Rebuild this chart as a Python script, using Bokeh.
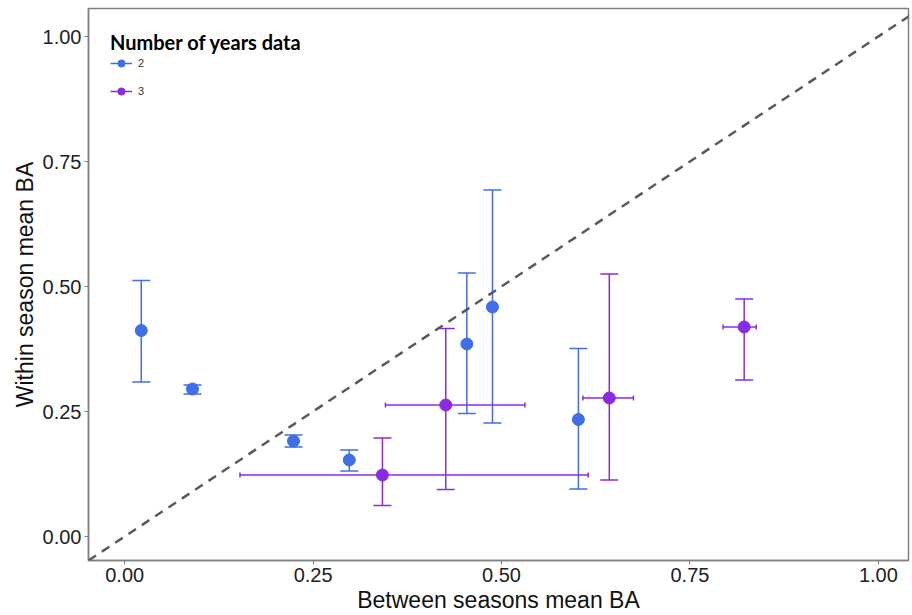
from bokeh.plotting import figure
from bokeh.models import (ColumnDataSource, Range1d, Whisker, TeeHead, Slope,
                          Legend, LegendItem, FixedTicker)
from bokeh.embed import file_html
from bokeh.resources import INLINE

# ---- data ----
# 2 years of data (only within-season error)
blue_x = [0.022, 0.090, 0.224, 0.298, 0.454, 0.488, 0.602]
blue_y = [0.412, 0.295, 0.191, 0.153, 0.385, 0.459, 0.234]
blue_ylo = [0.309, 0.285, 0.179, 0.131, 0.246, 0.227, 0.095]
blue_yhi = [0.512, 0.303, 0.203, 0.173, 0.527, 0.693, 0.376]

# 3 years of data (within and between season error)
purp_x = [0.342, 0.426, 0.643, 0.822]
purp_y = [0.123, 0.263, 0.277, 0.419]
purp_ylo = [0.062, 0.094, 0.113, 0.313]
purp_yhi = [0.197, 0.416, 0.525, 0.475]
purp_xlo = [0.153, 0.346, 0.608, 0.794]
purp_xhi = [0.615, 0.531, 0.675, 0.838]

ticks = [0.0, 0.25, 0.5, 0.75, 1.0]
tick_labels = {0.0: "0.00", 0.25: "0.25", 0.5: "0.50", 0.75: "0.75", 1.0: "1.00"}

BLUE = "#3f6ee6"
PURPLE = "#8a2be2"
GRAY = "#808080"
FONT = "Liberation Sans"

p = figure(width=912, height=615, output_backend="svg", toolbar_location=None,
           x_range=Range1d(-0.048, 1.04), y_range=Range1d(-0.048, 1.056),
           min_border_left=88, min_border_right=4, min_border_top=8,
           min_border_bottom=53)
p.grid.visible = False
p.outline_line_color = GRAY
p.outline_line_width = 1.5
p.background_fill_color = "white"
p.border_fill_color = "white"

for ax in (p.xaxis[0], p.yaxis[0]):
    ax.ticker = FixedTicker(ticks=ticks)
    ax.major_label_overrides = tick_labels
    ax.minor_tick_line_color = None
    ax.major_tick_in = 0
    ax.major_tick_out = 4
    ax.major_tick_line_color = GRAY
    ax.axis_line_color = GRAY
    ax.axis_line_width = 1.5
    ax.major_label_text_font = FONT
    ax.major_label_text_font_size = "20px"
    ax.major_label_text_color = "#222222"
    ax.axis_label_text_font = FONT
    ax.axis_label_text_font_size = "23px"
    ax.axis_label_text_font_style = "normal"
    ax.axis_label_text_color = "#111111"
    ax.major_label_standoff = 3
    ax.axis_label_standoff = 2

p.xaxis.axis_label = "Between seasons mean BA"
p.yaxis.axis_label = "Within season mean BA"

# y = x reference line
p.add_layout(Slope(gradient=1, y_intercept=0, line_color="#5a5a5a",
                   line_width=2.5, line_dash="9 7"))

sb = ColumnDataSource(dict(x=blue_x, y=blue_y, ylo=blue_ylo, yhi=blue_yhi))
sp = ColumnDataSource(dict(x=purp_x, y=purp_y, ylo=purp_ylo, yhi=purp_yhi,
                           xlo=purp_xlo, xhi=purp_xhi))

# blue error bars
seg_b = p.segment(x0="x", y0="ylo", x1="x", y1="yhi", source=sb,
                  line_color=BLUE, line_width=1.5)
p.add_layout(Whisker(source=sb, base="x", upper="yhi", lower="ylo",
                     dimension="height", line_alpha=0,
                     upper_head=TeeHead(size=18, line_color=BLUE, line_width=1.5),
                     lower_head=TeeHead(size=18, line_color=BLUE, line_width=1.5)))

# purple error bars
seg_p = p.segment(x0="x", y0="ylo", x1="x", y1="yhi", source=sp,
                  line_color=PURPLE, line_width=1.5)
p.add_layout(Whisker(source=sp, base="x", upper="yhi", lower="ylo",
                     dimension="height", line_alpha=0,
                     upper_head=TeeHead(size=18, line_color=PURPLE, line_width=1.5),
                     lower_head=TeeHead(size=18, line_color=PURPLE, line_width=1.5)))
p.segment(x0="xlo", y0="y", x1="xhi", y1="y", source=sp,
          line_color=PURPLE, line_width=1.5)
p.add_layout(Whisker(source=sp, base="y", upper="xhi", lower="xlo",
                     dimension="width", line_alpha=0,
                     upper_head=TeeHead(size=5, line_color=PURPLE, line_width=1.5),
                     lower_head=TeeHead(size=5, line_color=PURPLE, line_width=1.5)))

sc_b = p.scatter("x", "y", source=sb, size=12, fill_color=BLUE, line_color=BLUE)
sc_p = p.scatter("x", "y", source=sp, size=12, fill_color=PURPLE, line_color=PURPLE)

legend = Legend(items=[LegendItem(label="2", renderers=[seg_b, sc_b]),
                       LegendItem(label="3", renderers=[seg_p, sc_p])],
                location="top_left")
legend.title = "Number of years data"
legend.title_text_font = "Lato"
legend.title_text_font_style = "bold"
legend.title_text_font_size = "20px"
legend.title_text_color = "#000000"
legend.title_standoff = 0
legend.label_text_font = FONT
legend.label_text_font_size = "11px"
legend.label_text_color = "#333333"
legend.glyph_width = 22
legend.glyph_height = 18
legend.label_height = 18
legend.spacing = 10
legend.label_standoff = 6
legend.border_line_color = None
legend.background_fill_alpha = 0
legend.padding = 8
legend.margin = 22
p.add_layout(legend)

open("out.html", "w").write(file_html(p, INLINE))
